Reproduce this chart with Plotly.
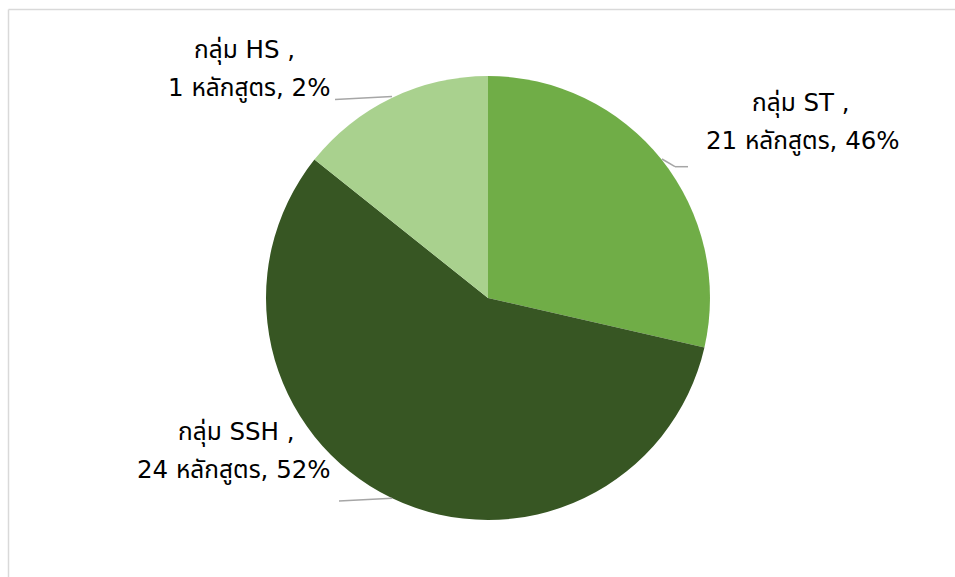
import plotly.graph_objects as go

# ---- data ----
groups = ["ST", "SSH", "HS"]
course_counts = [21, 24, 1]
percent_labels = ["46%", "52%", "2%"]
slice_shares = [2, 4, 1]          # relative slice sizes as drawn
colors = ["#70AD47", "#375623", "#A9D18E"]

W, H = 955, 577

def px(x):
    return x / W

def py(y):
    return 1 - y / H

fig = go.Figure(go.Pie(
    labels=groups,
    values=slice_shares,
    sort=False,
    direction="clockwise",
    rotation=0,
    marker=dict(colors=colors, line=dict(width=0)),
    textinfo="none",
    hoverinfo="label+value",
    showlegend=False,
    domain=dict(x=[px(266), px(710)], y=[py(520), py(76)]),
))

FONT = dict(family="'DejaVu Sans', 'Noto Sans Thai', 'Noto Sans', sans-serif",
            size=24.5, color="#000000")

# label positions (layout): (line1 center x, line1 center y, line2 center x, line2 center y)
label_pos = {
    "ST": (801, 103, 803, 141),
    "SSH": (236, 432, 234, 470),
    "HS": (244, 50, 249, 88),
}
leaders = {
    "ST": [(662, 159), (675, 166.7), (688, 166.7)],
    "SSH": [(392, 498.3), (339, 501)],
    "HS": [(392, 96.5), (335, 99.5)],
}

annotations = []
shapes = []
for g, n, p in zip(groups, course_counts, percent_labels):
    x1, y1, x2, y2 = label_pos[g]
    annotations.append(dict(x=px(x1), y=py(y1), xref="paper", yref="paper",
                            text=f"กลุ่ม {g} ,", showarrow=False, font=FONT,
                            xanchor="center", yanchor="middle"))
    annotations.append(dict(x=px(x2), y=py(y2), xref="paper", yref="paper",
                            text=f"{n} หลักสูตร, {p}", showarrow=False, font=FONT,
                            xanchor="center", yanchor="middle"))
    pts = leaders[g]
    for (ax, ay), (bx, by) in zip(pts[:-1], pts[1:]):
        shapes.append(dict(type="line", xref="paper", yref="paper",
                           x0=px(ax), y0=py(ay), x1=px(bx), y1=py(by),
                           line=dict(color="#A6A6A6", width=1.5)))

# chart area border (top and left edges visible in the frame)
shapes.append(dict(type="line", xref="paper", yref="paper",
                   x0=px(8.5), y0=py(9.5), x1=1.0, y1=py(9.5),
                   line=dict(color="#D9D9D9", width=1.5)))
shapes.append(dict(type="line", xref="paper", yref="paper",
                   x0=px(8.5), y0=py(9.5), x1=px(8.5), y1=0.0,
                   line=dict(color="#D9D9D9", width=1.5)))

fig.update_layout(
    width=W, height=H,
    margin=dict(l=0, r=0, t=0, b=0),
    paper_bgcolor="white",
    plot_bgcolor="white",
    annotations=annotations,
    shapes=shapes,
)

fig.write_html(
    "out.html",
    config={"displayModeBar": False},
    post_script="document.body.style.margin='0px';document.body.style.overflow='hidden';",
)
